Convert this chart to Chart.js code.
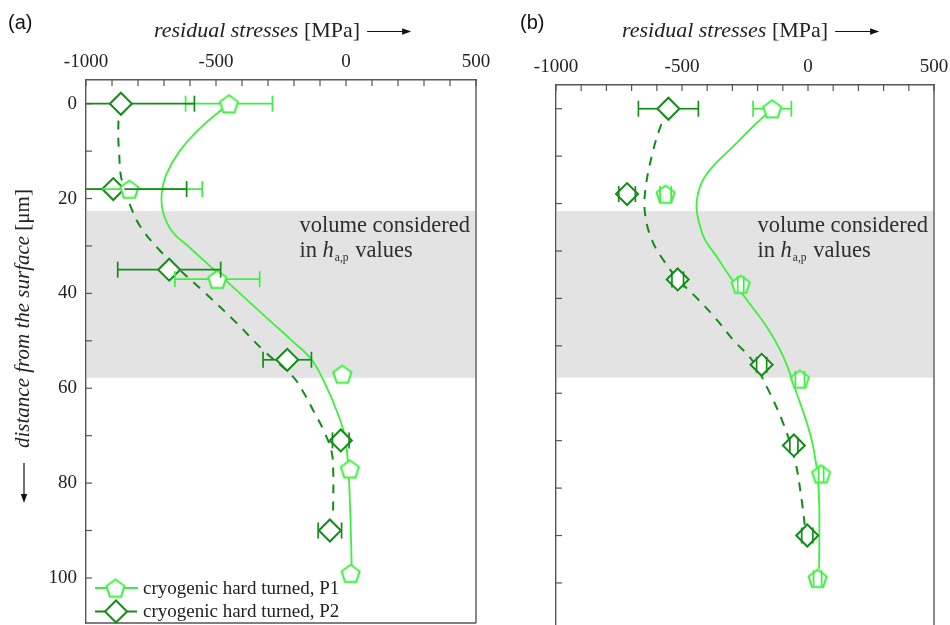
<!DOCTYPE html>
<html>
<head>
<meta charset="utf-8">
<script src="https://cdn.jsdelivr.net/npm/chart.js@4.4.1/dist/chart.umd.min.js"></script>
<style>
  html, body { margin: 0; padding: 0; background: #fff; overflow: hidden; width: 950px; height: 625px; }
  #wrapA { position: absolute; left: 0; top: 0; width: 500px; height: 625px; }
  #wrapB { position: absolute; left: 480px; top: 0; width: 470px; height: 640px; }
</style>
</head>
<body>
<div id="wrapA"><canvas id="chartA" width="500" height="625"></canvas></div>
<div id="wrapB"><canvas id="chartB" width="470" height="640"></canvas></div>
<script>
// ---- series names and tick labels ----
const seriesNames = ['cryogenic hard turned, P1', 'cryogenic hard turned, P2'];
const stressTickLabels = [-1000, -500, 0, 500];
const depthTickLabels = [0, 20, 40, 60, 80, 100];

// ---- panel (a): measured points, depth in µm, stress in MPa ----
const depthP1a  = [0, 18, 37, 57, 77, 99];
const stressP1a = [-450, -833, -495, -14, 15, 18];
const errorP1a  = [167, 280, 163, 0, 0, 0];
const depthP2a  = [0, 18, 35, 54, 71, 90];
const stressP2a = [-866, -895, -680, -226, -20, -62];
const errorP2a  = [283, 282, 198, 93, 32, 45];

// panel (a): fitted profiles
const fitDepthP1a  = [0, 5, 10, 15, 19, 23, 27, 30, 34, 38, 42, 46, 50, 54, 59, 65, 70, 77, 84, 91, 98];
const fitStressP1a = [-450, -558, -640, -692, -709, -703, -668, -608, -528, -448, -368, -288, -207, -132, -81, -34, -5, 9, 15, 19, 22];
const fitDepthP2a  = [0, 6, 10, 16, 22, 26, 31, 35, 40, 46, 52, 57.5, 61, 65, 69, 73.5, 78, 83, 87];
const fitStressP2a = [-872, -876, -873, -863, -826, -790, -715, -640, -540, -425, -318, -205, -162, -123, -85, -55, -49, -49, -50];

// ---- panel (b): measured points ----
const depthP1b  = [0, 18, 37, 57, 77, 99];
const stressP1b = [-142, -565, -267, -32, 52, 38];
const errorP1b  = [76, 22, 12, 18, 10, 16];
const depthP2b  = [0, 18, 36, 54, 71, 90];
const stressP2b = [-554, -718, -517, -184, -56, -3];
const errorP2b  = [119, 33, 23, 20, 16, 22];

// panel (b): fitted profiles
const fitDepthP1b  = [0, 3.7, 7.9, 12.1, 15.6, 19.9, 23.4, 27.6, 31.2, 35.4, 40.3, 46, 52.3, 60, 68.5, 75.6, 82.6, 90, 97];
const fitStressP1b = [-142, -217, -296, -376, -422, -442, -435, -409, -362, -310, -243, -164, -98, -45, 8, 34, 44, 45, 44];
const fitDepthP2b  = [0, 4, 10, 17, 22, 27.6, 31.9, 36, 40, 44, 48.8, 53, 58.6, 66.4, 74.1, 82.6, 88.2];
const fitStressP2b = [-554, -587, -620, -645, -647, -620, -574, -515, -440, -370, -296, -222, -164, -98, -52, -25, -12];

// depth range of the evaluated volume
const bandA = [22.6, 57.8];
const bandB = [21.6, 56.7];

// ---- styling ----
const LIGHT = '#3ef03e';
const DARK = '#148c18';
const FRAME = '#555555';
const TEXT = '#222222';
const SERIF = '"Liberation Serif", "Times New Roman", serif';
const PENT_R = 9.5;
const DIAM_R = 11;

Chart.defaults.font.family = SERIF;
Chart.defaults.color = TEXT;

function pentagonImage(color, r, lw) {
  const size = Math.ceil(2 * r + lw + 4);
  const c = document.createElement('canvas');
  c.width = c.height = size;
  const g = c.getContext('2d');
  const cx = size / 2, cy = size / 2 + r * 0.1;
  g.beginPath();
  for (let k = 0; k < 5; k++) {
    const a = -Math.PI / 2 + k * 2 * Math.PI / 5;
    g.lineTo(cx + r * Math.cos(a), cy + r * Math.sin(a));
  }
  g.closePath();
  g.fillStyle = '#fff';
  g.fill();
  g.lineWidth = lw;
  g.lineJoin = 'miter';
  g.strokeStyle = color;
  g.stroke();
  return c;
}
const pentagon = pentagonImage(LIGHT, PENT_R, 2);

function pts(xs, ys) { return xs.map((d, i) => ({ x: ys[i], y: d })); }

function datasets(dP1, sP1, eP1, dP2, sP2, eP2, fdP1, fsP1, fdP2, fsP2) {
  return [
    { label: seriesNames[0], data: pts(dP1, sP1), errors: eP1, gap: 9,
      pointStyle: pentagon, pointRadius: PENT_R, borderColor: LIGHT, backgroundColor: '#fff', showLine: false },
    { label: seriesNames[1], data: pts(dP2, sP2), errors: eP2, gap: DIAM_R,
      pointStyle: 'rectRot', pointRadius: DIAM_R, borderWidth: 2, borderColor: DARK, backgroundColor: '#fff', showLine: false },
    { label: 'fit P1', data: pts(fdP1, fsP1), showLine: true, tension: 0.4, pointRadius: 0,
      borderColor: LIGHT, borderWidth: 1.8, fill: false },
    { label: 'fit P2', data: pts(fdP2, fsP2), showLine: true, tension: 0.4, pointRadius: 0,
      borderColor: DARK, borderWidth: 2, borderDash: [9, 8], fill: false }
  ];
}

function line(ctx, x1, y1, x2, y2) { ctx.beginPath(); ctx.moveTo(x1, y1); ctx.lineTo(x2, y2); ctx.stroke(); }

function drawArrow(ctx, x1, y1, x2, y2) {
  // thin shaft with filled head at (x2, y2)
  const ang = Math.atan2(y2 - y1, x2 - x1), hl = 9, hw = 3.2;
  ctx.lineWidth = 1.2;
  line(ctx, x1, y1, x2 - hl * Math.cos(ang) * 0.6, y2 - hl * Math.sin(ang) * 0.6);
  ctx.beginPath();
  ctx.moveTo(x2, y2);
  ctx.lineTo(x2 - hl * Math.cos(ang) - hw * Math.sin(ang), y2 - hl * Math.sin(ang) + hw * Math.cos(ang));
  ctx.lineTo(x2 - hl * Math.cos(ang) + hw * Math.sin(ang), y2 - hl * Math.sin(ang) - hw * Math.cos(ang));
  ctx.closePath();
  ctx.fill();
}

const decor = {
  id: 'decor',
  beforeDatasetsDraw(chart, args, o) {
    const { ctx, chartArea: ca, scales: { y } } = chart;
    const y0 = y.getPixelForValue(o.band[0]), y1 = y.getPixelForValue(o.band[1]);
    ctx.save();
    ctx.fillStyle = '#e3e3e3';
    ctx.fillRect(ca.left + 1, y0, ca.right - ca.left - 2, y1 - y0);
    // caption of the shaded band
    ctx.fillStyle = '#2e2e2e';
    ctx.textBaseline = 'alphabetic';
    ctx.font = '22.5px ' + SERIF;
    const l1 = 'volume considered';
    const w1 = ctx.measureText(l1).width;
    const tx = ca.right - 6 - w1;
    const ty = y0 + 21;
    ctx.fillText(l1, tx, ty);
    let cx = tx;
    const ty2 = ty + 25;
    ctx.fillText('in ', cx, ty2); cx += ctx.measureText('in ').width;
    ctx.font = 'italic 22.5px ' + SERIF;
    ctx.fillText('h', cx, ty2); cx += ctx.measureText('h').width + 1;
    ctx.font = '11.5px ' + SERIF;
    ctx.fillText('a,p', cx, ty2 + 4); cx += ctx.measureText('a,p').width + 1;
    ctx.font = '22.5px ' + SERIF;
    ctx.fillText(' values', cx, ty2);
    ctx.restore();
  },
  afterDatasetsDraw(chart) {
    const { ctx, chartArea: ca, scales: { x, y } } = chart;
    ctx.save();
    ctx.beginPath();
    ctx.rect(ca.left, ca.top, ca.right - ca.left, ca.bottom - ca.top);
    ctx.clip();
    chart.data.datasets.forEach(ds => {
      if (!ds.errors) return;
      ctx.strokeStyle = ds.borderColor;
      ctx.lineWidth = 1.7;
      ds.data.forEach((p, k) => {
        const e = ds.errors[k];
        if (!e) return;
        const xc = x.getPixelForValue(p.x), yc = y.getPixelForValue(p.y);
        const xl = x.getPixelForValue(p.x - e), xr = x.getPixelForValue(p.x + e);
        if (xc - ds.gap > xl) line(ctx, xl, yc, xc - ds.gap, yc);
        if (xr > xc + ds.gap) line(ctx, xc + ds.gap, yc, xr, yc);
        line(ctx, xl, yc - 8, xl, yc + 8);
        line(ctx, xr, yc - 8, xr, yc + 8);
      });
    });
    ctx.restore();
  },
  afterDraw(chart, args, o) {
    const { ctx, chartArea: ca, scales: { x, y } } = chart;
    ctx.save();
    // right and bottom edges of the frame
    ctx.strokeStyle = FRAME;
    ctx.lineWidth = 1.4;
    line(ctx, ca.right, ca.top, ca.right, ca.bottom);
    line(ctx, ca.left, ca.bottom, ca.right, ca.bottom);
    // inward tick marks
    ctx.lineWidth = 1.2;
    x.ticks.forEach(t => { const px = x.getPixelForValue(t.value); line(ctx, px, ca.top, px, ca.top + 6); });
    y.ticks.forEach(t => {
      if (t.value < y.min || t.value > y.max) return;
      const py = y.getPixelForValue(t.value); line(ctx, ca.left, py, ca.left + 6, py);
    });

    // panel letter
    ctx.fillStyle = '#111';
    ctx.font = '20px "Liberation Sans", Arial, sans-serif';
    ctx.textBaseline = 'alphabetic';
    ctx.fillText(o.letter, o.letterX, 29);

    // horizontal axis title with arrow
    ctx.fillStyle = TEXT;
    ctx.font = 'italic 22px ' + SERIF;
    let cx = o.titleX;
    ctx.fillText('residual stresses', cx, 37); cx += ctx.measureText('residual stresses').width;
    ctx.font = '22px ' + SERIF;
    ctx.fillText(' [MPa]', cx, 37); cx += ctx.measureText(' [MPa]').width;
    ctx.strokeStyle = '#111'; ctx.fillStyle = '#111';
    drawArrow(ctx, cx + 7, 31.5, cx + 51, 31.5);

    if (o.yTitle) {
      // vertical axis title, reading upward, arrow pointing down
      ctx.save();
      ctx.translate(24, 503);
      ctx.rotate(-Math.PI / 2);
      drawArrow(ctx, 40, 0, 0, 0);
      ctx.fillStyle = TEXT;
      ctx.font = 'italic 21px ' + SERIF;
      let u = 55;
      ctx.fillText('distance from the surface', u, 5); u += ctx.measureText('distance from the surface').width;
      ctx.font = '21px ' + SERIF;
      ctx.fillText(' [\u03bcm]', u, 5);
      ctx.restore();
    }

    if (o.legend) {
      const rows = [588, 611.5];
      // P1 entry: solid line with pentagon
      ctx.strokeStyle = LIGHT; ctx.lineWidth = 1.8;
      line(ctx, 95, rows[0], 138, rows[0]);
      ctx.drawImage(pentagon, 115.5 - pentagon.width / 2, rows[0] - pentagon.height / 2);
      // P2 entry: dashed line with diamond
      ctx.strokeStyle = DARK; ctx.lineWidth = 2;
      line(ctx, 95, rows[1], 105, rows[1]);
      line(ctx, 127, rows[1], 137, rows[1]);
      ctx.beginPath();
      ctx.moveTo(116, rows[1] - DIAM_R); ctx.lineTo(116 + DIAM_R, rows[1]);
      ctx.lineTo(116, rows[1] + DIAM_R); ctx.lineTo(116 - DIAM_R, rows[1]); ctx.closePath();
      ctx.fillStyle = '#fff'; ctx.fill(); ctx.stroke();
      ctx.fillStyle = TEXT;
      ctx.font = '19px ' + SERIF;
      ctx.textBaseline = 'middle';
      ctx.fillText(seriesNames[0], 143, rows[0] + 1);
      ctx.fillText(seriesNames[1], 143, rows[1] + 1);
    }
    ctx.restore();
  }
};

function makeChart(id, p) {
  return new Chart(document.getElementById(id), {
    type: 'scatter',
    data: { datasets: p.datasets },
    options: {
      responsive: false,
      animation: false,
      devicePixelRatio: 1,
      layout: { autoPadding: false, padding: { left: 0, top: 0, right: p.padRight, bottom: p.padBottom } },
      plugins: {
        legend: { display: false },
        tooltip: { enabled: false },
        decor: p.decor
      },
      scales: {
        x: {
          type: 'linear', position: 'top', min: -1000, max: 500,
          ticks: {
            stepSize: 100, autoSkip: false, maxRotation: 0, padding: 7, color: TEXT,
            font: { family: SERIF, size: 19 },
            callback: v => stressTickLabels.includes(Math.round(v)) ? String(Math.round(v)) : ''
          },
          grid: { display: true, drawOnChartArea: false, drawTicks: false },
          border: { display: true, color: FRAME, width: 1.4 },
          afterFit: s => { s.height = p.top; s.paddingLeft = 0; s.paddingRight = 0; }
        },
        y: {
          type: 'linear', position: 'left', reverse: true, min: -5, max: 109.5,
          ticks: {
            stepSize: 10, includeBounds: false, autoSkip: false, padding: 9, color: TEXT,
            font: { family: SERIF, size: 19 },
            callback: v => (p.yLabels && depthTickLabels.includes(Math.round(v))) ? String(Math.round(v)) : ''
          },
          grid: { display: true, drawOnChartArea: false, drawTicks: false },
          border: { display: true, color: FRAME, width: 1.4 },
          afterFit: s => { s.width = p.left; s.paddingTop = 0; s.paddingBottom = 0; }
        }
      }
    },
    plugins: [decor]
  });
}

makeChart('chartA', {
  datasets: datasets(depthP1a, stressP1a, errorP1a, depthP2a, stressP2a, errorP2a,
                     fitDepthP1a, fitStressP1a, fitDepthP2a, fitStressP2a),
  top: 80, left: 86, padRight: 24, padBottom: 2, yLabels: true,
  decor: { band: bandA, letter: '(a)', letterX: 8, titleX: 154, yTitle: true, legend: true }
});

makeChart('chartB', {
  datasets: datasets(depthP1b, stressP1b, errorP1b, depthP2b, stressP2b, errorP2b,
                     fitDepthP1b, fitStressP1b, fitDepthP2b, fitStressP2b),
  top: 85, left: 76, padRight: 16, padBottom: 12, yLabels: false,
  decor: { band: bandB, letter: '(b)', letterX: 40, titleX: 142, yTitle: false, legend: false }
});
</script>
</body>
</html>
